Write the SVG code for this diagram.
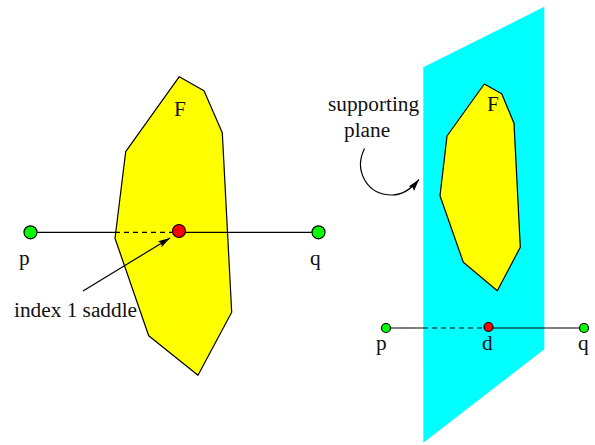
<svg xmlns="http://www.w3.org/2000/svg" width="595" height="445" viewBox="0 0 595 445">
<style>
text{font-family:"Liberation Serif","Times New Roman",serif;font-size:21.3px;fill:#111}
.f{fill:#ff0;stroke:#000;stroke-width:1.2;stroke-linejoin:round}
.l{stroke:#000;stroke-width:1.2;fill:none}
.d{stroke-dasharray:5 4}
.g{fill:#0f0;stroke:#000;stroke-width:1.2}
.r{fill:#f00;stroke:#000;stroke-width:1.2}
</style>
<defs><marker id="a" markerUnits="userSpaceOnUse" markerWidth="14" markerHeight="8" refX="12" refY="3.5" orient="auto"><path d="M0 0L12 3.5L0 7L2 3.5Z" fill="#000"/></marker></defs>
<rect width="595" height="445" fill="#fff"/>
<g id="plane"><polygon points="423.3,67.3 544.3,6.7 544.3,349.3 423.3,442.7" fill="#0ff"/></g>
<g id="face-left"><polygon class="f" points="179.3,76.7 204,90.7 222.3,132.7 231.7,312.3 198,375.3 148.7,335.7 115,238.3 125.7,151.7"/><text x="174" y="116">F</text></g>
<g id="face-right"><polygon class="f" points="484.3,84 501.7,93.7 514,123.3 520.3,247.3 497.3,290.7 463.3,262.3 440,195.7 447,136"/><text x="487" y="111">F</text></g>
<g id="connectors">
<path class="l" d="M37 232.3H115M179 232.3H318"/>
<path class="l d" d="M115 232.3H173"/>
<path class="l" d="M83 291L170 238" marker-end="url(#a)"/>
<path class="l" d="M390 328H423M488 328H584"/>
<path class="l d" d="M423 328H484"/>
<path class="l" d="M364.5 148.5C354 170 366 195 392 195C404 195 412 188 419 179.5" marker-end="url(#a)"/>
</g>
<g id="p-left"><circle class="g" cx="30.5" cy="232.3" r="6.5"/><text x="19" y="265">p</text></g>
<g id="q-left"><circle class="g" cx="318.5" cy="232.3" r="6.5"/><text x="310" y="265">q</text></g>
<g id="saddle"><circle class="r" cx="179" cy="231" r="6.5"/><text x="14" y="317">index 1 saddle</text></g>
<g id="label-plane"><text x="328" y="111">supporting</text><text x="344" y="137">plane</text></g>
<g id="p-right"><circle class="g" cx="386" cy="328" r="4.5"/><text x="376" y="350">p</text></g>
<g id="d-right"><circle class="r" cx="488.5" cy="327" r="4.5"/><text x="482" y="350">d</text></g>
<g id="q-right"><circle class="g" cx="584" cy="328" r="4.5"/><text x="578" y="350">q</text></g>
</svg>
